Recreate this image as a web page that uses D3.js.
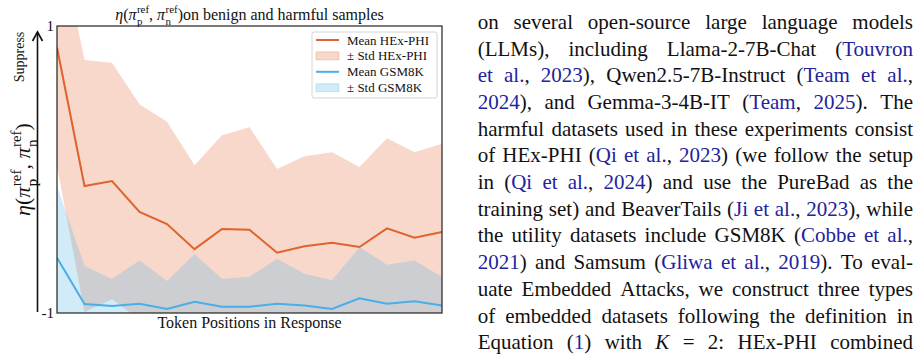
<!DOCTYPE html>
<html>
<head>
<meta charset="utf-8">
<script src="https://cdn.jsdelivr.net/npm/d3@7"></script>
<style>
  body { margin: 0; background: #fff; }
  svg { display: block; }
  svg text { font-family: "Liberation Serif", "Times New Roman", serif; }
</style>
</head>
<body>
<svg id="fig" width="923" height="355"></svg>
<script>
// token positions along the response
const tokenPos = [0, 1, 2, 3, 4, 5, 6, 7, 8, 9, 10, 11, 12, 13, 14];

// HEx-PHI (harmful)
const meanHex = [0.85, -0.115, -0.08, -0.295, -0.38, -0.555, -0.415, -0.42, -0.58, -0.535, -0.51, -0.54, -0.41, -0.475, -0.435];
const stdHex = [0.825, 0.878, 0.824, 0.75, 0.713, 0.585, 0.653, 0.715, 0.583, 0.628, 0.63, 0.558, 0.628, 0.595, 0.614];

// GSM8K (benign)
const meanGsm = [-0.615, -0.937, -0.951, -0.935, -0.972, -0.921, -0.956, -0.956, -0.935, -0.947, -0.972, -0.898, -0.935, -0.919, -0.947];
const stdGsm = [0.5, 0.265, 0.188, 0.30, 0.195, 0.33, 0.193, 0.209, 0.311, 0.221, 0.20, 0.356, 0.272, 0.284, 0.198];

const yTicks = [-1, 1];
const yTickLabels = ["-1", "1"];
const legendLabels = ["Mean HEx-PHI", "\u00b1 Std HEx-PHI", "Mean GSM8K", "\u00b1 Std GSM8K"];

// body text next to the figure ({} = citation link, [] = math italic)
const paragraph = [
  "on several open-source large language models",
  "(LLMs), including Llama-2-7B-Chat ({Touvron}",
  "{et al.}, {2023}), Qwen2.5-7B-Instruct ({Team et al.},",
  "{2024}), and Gemma-3-4B-IT ({Team}, {2025}). The",
  "harmful datasets used in these experiments consist",
  "of HEx-PHI ({Qi et al.}, {2023}) (we follow the setup",
  "in ({Qi et al.}, {2024}) and use the PureBad as the",
  "training set) and BeaverTails ({Ji et al.}, {2023}), while",
  "the utility datasets include GSM8K ({Cobbe et al.},",
  "{2021}) and Samsum ({Gliwa et al.}, {2019}). To eval-",
  "uate Embedded Attacks, we construct three types",
  "of embedded datasets following the definition in",
  "Equation ({1}) with [K] = 2: HEx-PHI combined"
];

const orange = "#e0622c";
const blue = "#4aaee8";
const citeBlue = "#23239c";

const svg = d3.select("#fig");

const margin = { left: 57, right: 442, top: 26, bottom: 313 };

const x = d3.scaleLinear().domain([0, 14]).range([margin.left, margin.right]);
const y = d3.scaleLinear().domain([-1, 1]).range([margin.bottom, margin.top]);

svg.append("clipPath").attr("id", "plotClip")
  .append("rect")
  .attr("x", margin.left).attr("y", margin.top)
  .attr("width", margin.right - margin.left)
  .attr("height", margin.bottom - margin.top);

const plot = svg.append("g").attr("clip-path", "url(#plotClip)");

const band = (mean, std) => d3.area()
  .x((d, i) => x(tokenPos[i]))
  .y0((d, i) => y(mean[i] - std[i]))
  .y1((d, i) => y(mean[i] + std[i]))(mean);

const line = d3.line().x((d, i) => x(tokenPos[i])).y(d => y(d));

plot.append("path").attr("d", band(meanHex, stdHex))
  .attr("fill", orange).attr("fill-opacity", 0.25);
plot.append("path").attr("d", band(meanGsm, stdGsm))
  .attr("fill", blue).attr("fill-opacity", 0.25);

plot.append("path").attr("d", line(meanHex))
  .attr("fill", "none").attr("stroke", orange).attr("stroke-width", 2);
plot.append("path").attr("d", line(meanGsm))
  .attr("fill", "none").attr("stroke", blue).attr("stroke-width", 2);

// frame
svg.append("rect")
  .attr("x", margin.left).attr("y", margin.top)
  .attr("width", margin.right - margin.left)
  .attr("height", margin.bottom - margin.top)
  .attr("fill", "none").attr("stroke", "#222").attr("stroke-width", 1.2);

// y tick labels (only the ends)
svg.selectAll(".ytick")
  .data(yTicks)
  .enter().append("text")
  .attr("class", "ytick")
  .attr("x", margin.left - 3)
  .attr("y", d => y(d) + 5)
  .attr("text-anchor", "end")
  .attr("font-size", 15)
  .attr("fill", "#111")
  .text((d, i) => yTickLabels[i]);

// helper for inline math: pieces of text, sub/superscripts stacked
function mathText(g, parts, size) {
  let cx = 0;
  parts.forEach(p => {
    if (p.sub !== undefined) {
      const s = g.append("text").attr("x", cx + 0.5).attr("y", size * 0.3)
        .attr("font-size", size * 0.68).text(p.sub);
      const t = g.append("text").attr("x", cx + 0.5).attr("y", -size * 0.42)
        .attr("font-size", size * 0.68).text(p.sup);
      cx += 0.5 + Math.max(s.node().getComputedTextLength(), t.node().getComputedTextLength());
    } else {
      const t = g.append("text").attr("x", cx).attr("font-size", size)
        .attr("font-style", p.it ? "italic" : null).text(p.t);
      cx += t.node().getComputedTextLength();
    }
  });
  return cx;
}

const etaParts = [
  { t: "\u03b7", it: true }, { t: "(" }, { t: "\u03c0", it: true }, { sub: "p", sup: "ref" },
  { t: ",\u00a0" }, { t: "\u03c0", it: true }, { sub: "n", sup: "ref" }, { t: ")" }
];

// title
const title = svg.append("g").attr("fill", "#111");
const titleInner = title.append("g");
const tw = mathText(titleInner, etaParts.concat([{ t: "on benign and harmful samples" }]), 16);
title.attr("transform", `translate(${(margin.left + margin.right) / 2 - tw / 2},20)`);

// x label
svg.append("text")
  .attr("x", (margin.left + margin.right) / 2)
  .attr("y", 328)
  .attr("text-anchor", "middle")
  .attr("font-size", 16)
  .attr("fill", "#111")
  .text("Token Positions in Response");

// y label with arrow
svg.append("line")
  .attr("x1", 37.5).attr("x2", 37.5)
  .attr("y1", 312).attr("y2", 32)
  .attr("stroke", "#111").attr("stroke-width", 1.6);
svg.append("path")
  .attr("d", "M32.5,41 L37.5,32 L42.5,41")
  .attr("fill", "none").attr("stroke", "#111").attr("stroke-width", 1.6);

svg.append("text")
  .attr("transform", "translate(24,57) rotate(-90)")
  .attr("text-anchor", "middle")
  .attr("font-size", 14)
  .attr("fill", "#111")
  .text("Suppress");

const ylab = svg.append("g").attr("fill", "#111");
const ylabInner = ylab.append("g");
const yw = mathText(ylabInner, etaParts, 22);
ylab.attr("transform", `translate(30,${(margin.top + margin.bottom) / 2}) rotate(-90)`);
ylabInner.attr("transform", `translate(${-yw / 2},0)`);

// legend
const legend = svg.append("g").attr("transform", "translate(312,32)");
legend.append("rect")
  .attr("width", 125).attr("height", 66).attr("rx", 2)
  .attr("fill", "#fff").attr("fill-opacity", 0.85)
  .attr("stroke", "#d4d4d4");

const legendItems = [
  { type: "line", color: orange },
  { type: "patch", color: orange },
  { type: "line", color: blue },
  { type: "patch", color: blue }
];
legendItems.forEach((d, i) => {
  const cy = 8 + i * 15.9;
  if (d.type === "line") {
    legend.append("line")
      .attr("x1", 4).attr("x2", 27).attr("y1", cy).attr("y2", cy)
      .attr("stroke", d.color).attr("stroke-width", 2);
  } else {
    legend.append("rect")
      .attr("x", 4).attr("y", cy - 4).attr("width", 23).attr("height", 8)
      .attr("fill", d.color).attr("fill-opacity", 0.25)
      .attr("stroke", d.color).attr("stroke-opacity", 0.25);
  }
  legend.append("text")
    .attr("x", 35).attr("y", cy + 4.5)
    .attr("font-size", 13)
    .attr("fill", "#111")
    .text(legendLabels[i]);
});

// justified body text
const textLeft = 477.7, textRight = 913;
const textG = svg.append("g").attr("font-size", 21).attr("fill", "#111");
paragraph.forEach((ln, i) => {
  const words = [];
  let cur = [], seg = "", isBlue = false, isIt = false;
  const flush = () => { if (seg) cur.push({ s: seg, blue: isBlue, it: isIt }); seg = ""; };
  for (const ch of ln) {
    if (ch === "{" || ch === "}") { flush(); isBlue = ch === "{"; }
    else if (ch === "[" || ch === "]") { flush(); isIt = ch === "["; }
    else if (ch === " ") { flush(); if (cur.length) words.push(cur); cur = []; }
    else seg += ch;
  }
  flush();
  if (cur.length) words.push(cur);

  const by = 28.8 + i * 26.7;
  const nodes = words.map(w => {
    const t = textG.append("text").attr("y", by);
    w.forEach(s => t.append("tspan")
      .attr("fill", s.blue ? citeBlue : null)
      .attr("font-style", s.it ? "italic" : null)
      .text(s.s));
    return t;
  });
  const widths = nodes.map(t => t.node().getComputedTextLength());
  const gap = (textRight - textLeft - d3.sum(widths)) / (nodes.length - 1);
  let cx = textLeft;
  nodes.forEach((t, j) => { t.attr("x", cx); cx += widths[j] + gap; });
});
</script>
</body>
</html>
